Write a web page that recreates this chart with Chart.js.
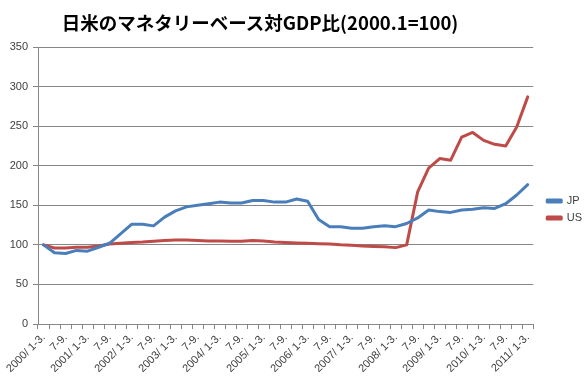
<!DOCTYPE html>
<html>
<head>
<meta charset="utf-8">
<script src="https://cdn.jsdelivr.net/npm/chart.js@4.4.1/dist/chart.umd.min.js"></script>
<style>
  html, body { margin: 0; padding: 0; background: #ffffff; }
  #wrap { position: relative; width: 584px; height: 382px; }
  #title { position: absolute; top: 7px; left: 0; width: 520px; text-align: center;
           font-family: "Noto Sans CJK JP", sans-serif; font-weight: bold; font-size: 18.5px;
           color: #000; line-height: 30px; }
  canvas { position: absolute; left: 0; top: 0; }
</style>
</head>
<body>
<div id="wrap">
  <canvas id="c" width="584" height="382"></canvas>
  <div id="title">日米のマネタリーベース対GDP比(2000.1=100)</div>
</div>
<script>
const categories = [
  "2000/ 1-3.", "4-6.", "7-9.", "10-12.",
  "2001/ 1-3.", "4-6.", "7-9.", "10-12.",
  "2002/ 1-3.", "4-6.", "7-9.", "10-12.",
  "2003/ 1-3.", "4-6.", "7-9.", "10-12.",
  "2004/ 1-3.", "4-6.", "7-9.", "10-12.",
  "2005/ 1-3.", "4-6.", "7-9.", "10-12.",
  "2006/ 1-3.", "4-6.", "7-9.", "10-12.",
  "2007/ 1-3.", "4-6.", "7-9.", "10-12.",
  "2008/ 1-3.", "4-6.", "7-9.", "10-12.",
  "2009/ 1-3.", "4-6.", "7-9.", "10-12.",
  "2010/ 1-3.", "4-6.", "7-9.", "10-12.",
  "2011/ 1-3."
];
const jpValues = [100, 90, 89, 93, 92, 97, 102, 114, 126, 126, 124, 135, 143, 148, 150,
                  152, 154, 153, 153, 156, 156, 154, 154, 158, 155, 132, 123, 123, 121, 121,
                  123, 124, 123, 127, 134, 144, 142, 141, 144, 145, 147, 146, 152, 163, 176];
const usValues = [100, 96, 96, 97, 97, 98.5, 101, 102, 103, 103.5, 104.5, 105.5, 106, 106, 105.5,
                  105, 105, 104.5, 104.5, 105.5, 105, 103.5, 103, 102.5, 102, 101.5, 101, 100, 99.5, 98.5,
                  98, 97.5, 96.5, 100, 167, 197, 209, 207, 236, 242, 232, 227, 225, 249, 287];
const seriesNames = ["JP", "US"];
const yTicks = { min: 0, max: 350, step: 50 };

const axisGray = "#868686";
const textColor = "#404040";

const legendShift = {
  id: "legendShift",
  afterLayout(chart) {
    const l = chart.legend;
    if (l) { l.top -= 5; l.bottom -= 5; l.left += 8; l.right += 8; }
  }
};

new Chart(document.getElementById("c"), {
  type: "line",
  data: {
    labels: categories,
    datasets: [
      { label: seriesNames[0], data: jpValues, borderColor: "#4A7EBB", backgroundColor: "#4A7EBB",
        borderWidth: 3, pointRadius: 0, tension: 0, borderCapStyle: "round", borderJoinStyle: "round" },
      { label: seriesNames[1], data: usValues, borderColor: "#BE4B48", backgroundColor: "#BE4B48",
        borderWidth: 3, pointRadius: 0, tension: 0, borderCapStyle: "round", borderJoinStyle: "round" }
    ]
  },
  options: {
    responsive: false,
    animation: false,
    devicePixelRatio: 1,
    layout: { padding: { top: 47, right: 0, bottom: 0, left: 0 } },
    plugins: {
      title: { display: false },
      tooltip: { enabled: false },
      legend: {
        position: "right",
        align: "center",
        labels: {
          boxWidth: 14, boxHeight: 2, padding: 6,
          color: textColor,
          font: { family: "Liberation Sans", size: 11 }
        }
      }
    },
    scales: {
      x: {
        type: "category",
        offset: true,
        afterFit(s) { s.height = 58; },
        border: { color: axisGray, width: 1 },
        grid: { display: true, offset: true, drawOnChartArea: false, drawTicks: true,
                tickLength: 5, color: axisGray },
        ticks: {
          autoSkip: false, minRotation: 45, maxRotation: 45, padding: 2,
          color: textColor, font: { family: "Liberation Sans", size: 11 },
          callback(v, i) { return i % 2 === 0 ? categories[i] : ""; }
        }
      },
      y: {
        min: yTicks.min, max: yTicks.max,
        afterFit(s) { s.width = 38; },
        border: { color: axisGray, width: 1 },
        grid: { color: axisGray, tickLength: 5, drawTicks: true },
        ticks: { stepSize: yTicks.step, padding: 5, color: textColor,
                 font: { family: "Liberation Sans", size: 11 } }
      }
    }
  },
  plugins: [legendShift]
});
</script>
</body>
</html>
